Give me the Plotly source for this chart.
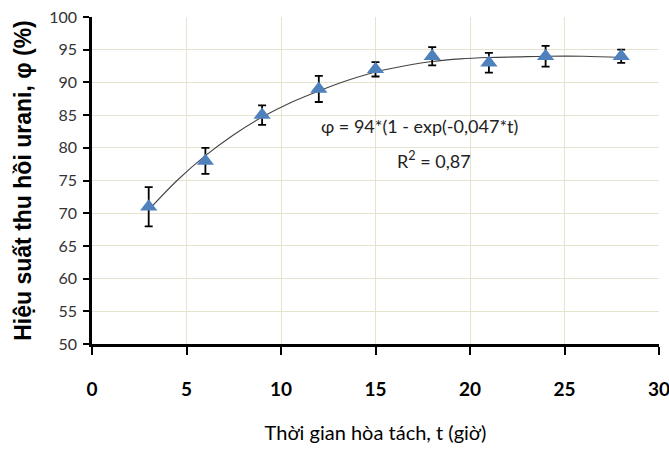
import plotly.graph_objects as go

t_data = [3, 6, 9, 12, 15, 18, 21, 24, 28]
phi_data = [71, 78, 85, 89, 92, 94, 93, 94, 94]
phi_err = [3, 2, 1.5, 2, 1.1, 1.4, 1.5, 1.6, 1.0]

# fitted curve
t_fit = [3, 4.5, 6, 7.5, 9, 10.5, 12, 13.5, 15, 16.5, 18, 19.5, 21, 22.5, 24, 26, 28]
phi_fit = [70.5, 75.0, 78.8, 82.0, 84.7, 86.9, 88.7, 90.3, 91.6, 92.5, 93.2, 93.6, 93.8, 93.9, 94.0, 94.0, 93.8]

x_ticks = [0, 5, 10, 15, 20, 25, 30]
y_ticks = [50, 55, 60, 65, 70, 75, 80, 85, 90, 95, 100]

FONT = "Lato, Liberation Sans, sans-serif"

fig = go.Figure()
fig.add_trace(go.Scatter(x=t_fit, y=phi_fit, mode="lines", line=dict(color="#444444", width=1.1, shape="spline"),
                         showlegend=False, hoverinfo="skip"))
fig.add_trace(go.Scatter(x=t_data, y=phi_data, mode="markers",
                         marker=dict(symbol="triangle-up", size=15, color="#4F81BD"),
                         error_y=dict(type="data", array=phi_err, visible=True, color="black", thickness=1.8, width=4),
                         showlegend=False))

fig.add_annotation(x=17.35, y=83.3, text="φ = 94*(1 - exp(-0,047*t)", showarrow=False,
                   font=dict(family=FONT, size=18, color="#222"))
fig.add_annotation(x=18.1, y=78.1, text="R<sup>2</sup> = 0,87", showarrow=False,
                   font=dict(family=FONT, size=18, color="#222"))

grid = "#E6E3CF"
fig.update_xaxes(range=[0, 30], tickvals=x_ticks, showgrid=True, gridcolor=grid, gridwidth=1.2,
                 showline=True, linecolor="black", linewidth=2.5, ticks="outside", ticklen=8, tickwidth=2,
                 tickcolor="black", zeroline=False, ticklabelstandoff=18, ticklabeloverflow="allow",
                 automargin=False,
                 tickfont=dict(family=FONT, size=19, color="black", weight="bold"),
                 title=dict(text="Thời gian hòa tách, t (giờ)", standoff=28,
                            font=dict(family=FONT, size=20, color="black")))
fig.update_yaxes(range=[50, 100], tickvals=y_ticks, showgrid=True, gridcolor=grid, gridwidth=1.2,
                 showline=True, linecolor="black", linewidth=2.5, ticks="outside", ticklen=6, tickwidth=1.5,
                 tickcolor="black", zeroline=False, ticklabelstandoff=3, automargin=False,
                 tickfont=dict(family=FONT, size=16, color="#333"),
                 title=dict(text="<b>Hiệu suất thu hồi urani, φ (%)</b>", standoff=12,
                            font=dict(family="Liberation Sans, Arial, sans-serif", size=23, color="black")))

fig.update_layout(width=669, height=454, margin=dict(l=92, r=10, t=17, b=110),
                  plot_bgcolor="white", paper_bgcolor="white")
fig.write_html("out.html")
